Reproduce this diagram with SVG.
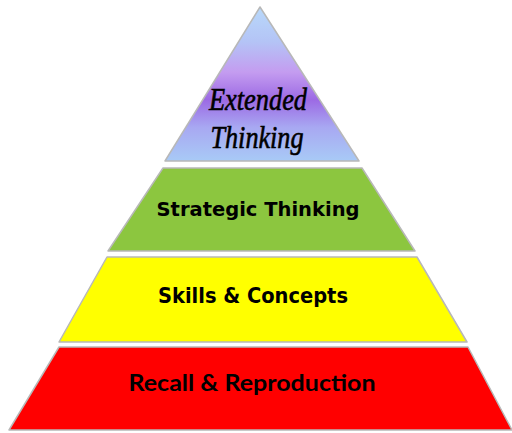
<svg xmlns="http://www.w3.org/2000/svg" width="512" height="433" viewBox="0 0 512 433">
  <defs>
    <linearGradient id="topFill" x1="0" y1="8" x2="0" y2="161" gradientUnits="userSpaceOnUse">
      <stop offset="0" stop-color="#b8d8fa"/>
      <stop offset="0.22" stop-color="#b4c4f6"/>
      <stop offset="0.42" stop-color="#c49cf0"/>
      <stop offset="0.6" stop-color="#9c6ae4"/>
      <stop offset="0.78" stop-color="#a8a8f2"/>
      <stop offset="1" stop-color="#a8caf6"/>
    </linearGradient>
  </defs>
  <style>
    .tier { stroke: #b8b8b8; stroke-width: 1.5; stroke-linejoin: round; }
    .label { fill: #000; text-anchor: middle; font-weight: bold; }
    .sans { font-family: "DejaVu Sans Condensed", "DejaVu Sans", Verdana, sans-serif; }
    .script { font-family: "Liberation Serif", serif; font-style: italic; font-weight: normal; stroke: #000; stroke-width: 0.6; }
  </style>
  <rect width="512" height="433" fill="#ffffff"/>

  <g id="extended-thinking">
    <polygon class="tier" points="260,7 359,161 165,161" fill="url(#topFill)"/>
    <text class="label script" x="258" y="110" font-size="31" textLength="98" lengthAdjust="spacingAndGlyphs">Extended</text>
    <text class="label script" x="257" y="148" font-size="31" textLength="93" lengthAdjust="spacingAndGlyphs">Thinking</text>
  </g>

  <g id="strategic-thinking">
    <polygon class="tier" points="163,168 362,168 415,251 108,251" fill="#8cc63f"/>
    <text class="label sans" x="258" y="216" font-size="20" textLength="203" lengthAdjust="spacingAndGlyphs">Strategic Thinking</text>
  </g>

  <g id="skills-concepts">
    <polygon class="tier" points="107,257 417,257 467,342 59,342" fill="#ffff00"/>
    <text class="label sans" x="253" y="303" font-size="21" textLength="190" lengthAdjust="spacingAndGlyphs">Skills &amp; Concepts</text>
  </g>

  <g id="recall-reproduction">
    <polygon class="tier" points="59,347 468,347 512,430 9,430" fill="#ff0000"/>
    <text class="label" x="252" y="391" font-size="23" font-weight="900" font-family="Lato, 'Open Sans', sans-serif" textLength="247" lengthAdjust="spacingAndGlyphs">Recall &amp; Reproduction</text>
  </g>
</svg>
